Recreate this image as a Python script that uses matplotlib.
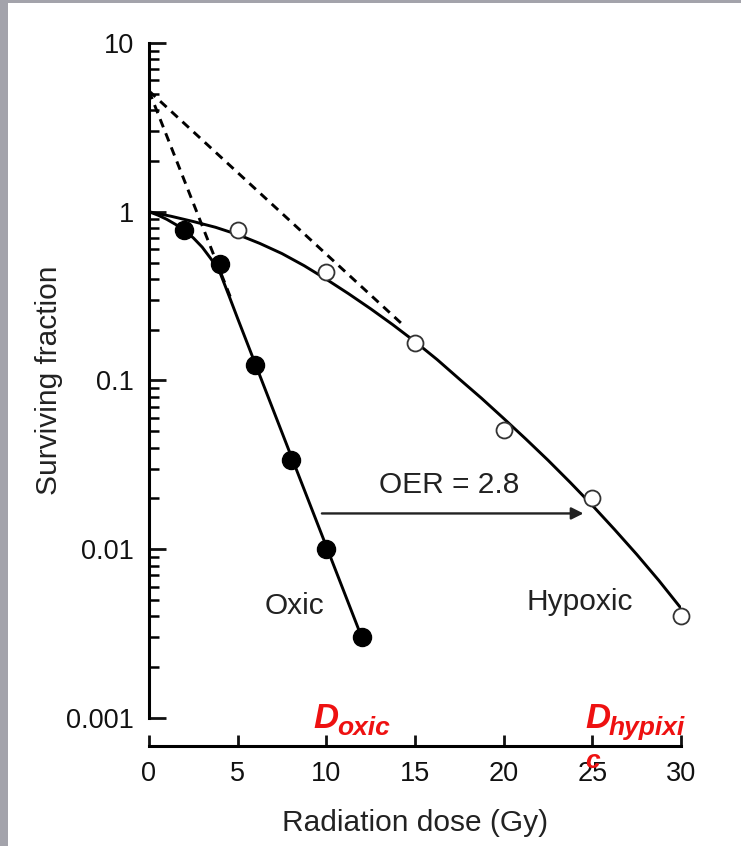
import matplotlib
matplotlib.use("Agg")
import matplotlib.pyplot as plt
from matplotlib.patches import Rectangle
from matplotlib.ticker import LogLocator, NullFormatter, FixedFormatter, FixedLocator

plt.rcParams['font.family'] = ['Liberation Sans', 'DejaVu Sans']

# measured cell survival points
oxic_dose = [2, 4, 6, 8, 10, 12]
oxic_sf = [0.78, 0.49, 0.124, 0.034, 0.0101, 0.003]
hypoxic_dose = [5, 10, 15, 20, 25, 30]
hypoxic_sf = [0.78, 0.44, 0.167, 0.051, 0.020, 0.004]

# fitted curves
oxic_curve_dose = [0, 0.5, 1, 1.5, 2, 2.5, 3, 3.5, 4, 4.5, 5, 6, 8, 10, 12]
oxic_curve_sf = [1.0, 0.955, 0.902, 0.841, 0.776, 0.70, 0.617, 0.525, 0.437, 0.32,
                 0.233, 0.125, 0.036, 0.0104, 0.003]
hypoxic_curve_dose = [0, 1.25, 2.5, 3.75, 5, 6.25, 7.5, 8.75, 10, 11.25, 12.5, 13.75, 15,
                      16.25, 17.5, 18.75, 20, 21.25, 22.5, 23.75, 25, 26.25, 27.5, 28.75, 30]
hypoxic_curve_sf = [1.0, 0.94, 0.875, 0.809, 0.733, 0.649, 0.565, 0.479, 0.398, 0.327,
                    0.266, 0.214, 0.17, 0.133, 0.102, 0.0785, 0.0596, 0.045, 0.0337,
                    0.0249, 0.0182, 0.0131, 0.00933, 0.00653, 0.00447]

# extrapolations of the straight parts back to zero dose
oxic_extrap_dose = [0, 4.6]
oxic_extrap_sf = [5.2, 0.31]
hypoxic_extrap_dose = [0, 14.4]
hypoxic_extrap_sf = [5.2, 0.21]

yticks = [0.001, 0.01, 0.1, 1, 10]
ytick_labels = ["0.001", "0.01", "0.1", "1", "10"]
xticks = [0, 5, 10, 15, 20, 25, 30]

fig = plt.figure(figsize=(7.41, 8.46), dpi=100)
fig.patch.set_facecolor("#a3a3ab")
fig.patches.append(Rectangle((8 / 741, 0), 1, 1 - 3 / 846, transform=fig.transFigure,
                             facecolor="white", edgecolor="none", zorder=-10))

ax = fig.add_axes([149 / 741, 1 - 718 / 846, (681 - 149) / 741, (718 - 43) / 846])
ax.set_facecolor("none")
ax.set_zorder(5)

lw = 2.1
ax.plot(oxic_curve_dose, oxic_curve_sf, color="black", lw=lw, zorder=3)
ax.plot(hypoxic_curve_dose, hypoxic_curve_sf, color="black", lw=lw, zorder=3)
ax.plot(oxic_extrap_dose, oxic_extrap_sf, color="black", lw=lw, dashes=(3.0, 2.2), zorder=3)
ax.plot(hypoxic_extrap_dose, hypoxic_extrap_sf, color="black", lw=lw, dashes=(3.0, 2.2), zorder=3)

ax.plot(oxic_dose, oxic_sf, "o", color="black", ms=13, zorder=4, clip_on=False)
ax.plot(hypoxic_dose, hypoxic_sf, "o", mfc="white", mec="#333333", mew=1.3, ms=11.5,
        zorder=4, clip_on=False)

ax.annotate("", xy=(24.5, 0.0163), xytext=(9.75, 0.0163),
            arrowprops=dict(arrowstyle="-|>", color="#222222", lw=1.7, mutation_scale=18,
                            shrinkA=0, shrinkB=0))
ax.text(16.9, 0.024, "OER = 2.8", fontsize=21.5, ha="center", va="center", color="#222222")
ax.text(8.2, 0.0046, "Oxic", fontsize=21.5, ha="center", va="center", color="#222222")
ax.text(24.3, 0.0049, "Hypoxic", fontsize=21.5, ha="center", va="center", color="#222222")

ax.set_yscale("log")
ax.set_xlim(0, 30)
ax.set_ylim(0.001, 10)

ax.spines["top"].set_visible(False)
ax.spines["right"].set_visible(False)
ax.spines["left"].set_linewidth(2.2)
ax.spines["bottom"].set_linewidth(2.2)
ax.spines["bottom"].set_position(("outward", 20))

ax.yaxis.set_major_locator(FixedLocator(yticks))
ax.yaxis.set_major_formatter(FixedFormatter(ytick_labels))
ax.yaxis.set_minor_locator(LogLocator(base=10, subs=range(2, 10)))
ax.yaxis.set_minor_formatter(NullFormatter())
ax.set_xticks(xticks)

ax.tick_params(axis="y", which="major", direction="in", length=12, width=2.0,
               labelsize=19.5, pad=11, colors="#111111")
ax.tick_params(axis="y", which="minor", direction="in", length=7, width=1.8)
ax.tick_params(axis="x", which="major", direction="in", length=8, width=2.0,
               labelsize=19.5, pad=11, colors="#111111")

ax.set_xlabel("Radiation dose (Gy)", fontsize=21.5, labelpad=16, color="#222222")
ax.set_ylabel("Surviving fraction", fontsize=21.5, labelpad=2, color="#222222")

# red dose labels near the axis
red = "#ee1111"
fig.text(313 / 741, 1 - 728 / 846, "D", fontsize=25, color=red, fontweight="bold",
         fontstyle="italic", ha="left", va="baseline", zorder=10)
fig.text(337 / 741, 1 - 735 / 846, "oxic", fontsize=19, color=red, fontweight="bold",
         fontstyle="italic", ha="left", va="baseline", zorder=10)
fig.text(585 / 741, 1 - 728 / 846, "D", fontsize=25, color=red, fontweight="bold",
         fontstyle="italic", ha="left", va="baseline", zorder=10)
fig.text(609 / 741, 1 - 735 / 846, "hypixi", fontsize=19, color=red, fontweight="bold",
         fontstyle="italic", ha="left", va="baseline", zorder=10)
fig.text(585 / 741, 1 - 768 / 846, "c", fontsize=19, color=red, fontweight="bold",
         fontstyle="italic", ha="left", va="baseline", zorder=10)

fig.savefig("out.png", dpi=100, facecolor=fig.get_facecolor())
